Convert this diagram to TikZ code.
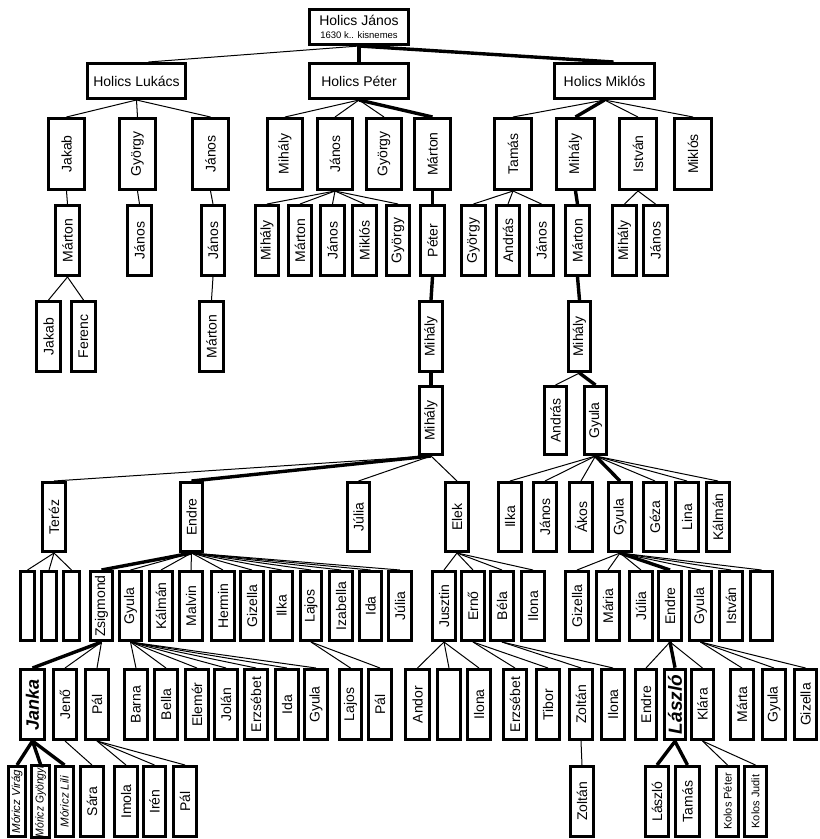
\documentclass[tikz,border=0pt]{standalone}
\usepackage{fontspec}
\setmainfont{Liberation Sans}
\usepackage{graphicx}
\tikzset{
 pb/.style={draw, line width=3.1pt, rectangle, inner sep=0pt, font=\fontsize{14}{16}\selectfont},
 lk/.style={line width=1pt},
 tk/.style={line width=3.4pt},
 bi/.style={font=\fontsize{18}{20}\selectfont\bfseries\itshape},
 mi/.style={font=\fontsize{11.5}{13}\selectfont\itshape},
 ks/.style={font=\fontsize{11}{13}\selectfont},
}
\newcommand\bx[7][]{\node[pb,minimum width={#4-#3-3.1},minimum height={#6-#5-3.1},#1] (#2) at ({(#3+#4)/2},{(#5+#6)/2}) {\rotatebox{90}{#7}};}
\newcommand\hb[7][]{\node[pb,minimum width={#4-#3-3.1},minimum height={#6-#5-3.1},align=center,#1] (#2) at ({(#3+#4)/2},{(#5+#6)/2}) {#7};}
\begin{document}
\begin{tikzpicture}[x=1pt,y=-1pt]
\fill[white] (0,0) rectangle (820,839);
\useasboundingbox (0,0) rectangle (820,839);
% level 0 and 1
\hb{hj}{308}{410}{8}{46}{Holics János\\[-3pt]{\fontsize{9.5}{11}\selectfont 1630 k.. kisnemes}}
\hb{luk}{86}{187}{62}{100}{Holics Lukács}
\hb{pet}{308}{410}{62}{100}{Holics Péter}
\hb{mik}{553}{656}{62}{100}{Holics Miklós}
% level 2
\bx{l2a}{47}{86}{117}{191}{Jakab}
\bx{l2b}{118}{157}{117}{191}{György}
\bx{l2c}{191}{230}{117}{191}{János}
\bx{p2a}{266}{304}{117}{191}{Mihály}
\bx{p2b}{316}{354}{117}{191}{János}
\bx{p2c}{365}{403}{117}{191}{György}
\bx{p2d}{413}{452}{117}{191}{Márton}
\bx{m2a}{493}{533}{117}{191}{Tamás}
\bx{m2b}{555}{596}{117}{191}{Mihály}
\bx{m2c}{618}{658}{117}{191}{István}
\bx{m2d}{673}{713}{117}{191}{Miklós}
% level 3
\bx{l3a}{54}{81}{204}{277}{Márton}
\bx{l3b}{126}{153}{204}{277}{János}
\bx{l3c}{200}{226}{204}{277}{János}
\bx{p3a}{254}{280}{204}{277}{Mihály}
\bx{p3b}{287}{313}{204}{277}{Márton}
\bx{p3c}{319}{346}{204}{277}{János}
\bx{p3d}{351}{378}{204}{277}{Miklós}
\bx{p3e}{385}{411}{204}{277}{György}
\bx{p3f}{419}{446}{204}{277}{Péter}
\bx{m3a}{460}{487}{204}{277}{György}
\bx{m3b}{495}{521}{204}{277}{András}
\bx{m3c}{528}{555}{204}{277}{János}
\bx{m3d}{564}{591}{204}{277}{Márton}
\bx{m3e}{611}{638}{204}{277}{Mihály}
\bx{m3f}{642}{669}{204}{277}{János}
% level 4
\bx{l4a}{35}{62}{300}{373}{Jakab}
\bx{l4b}{70}{97}{300}{373}{Ferenc}
\bx{l4c}{198}{225}{300}{373}{Márton}
\bx{p4}{418}{444}{300}{373}{Mihály}
\bx{m4}{567}{592}{300}{373}{Mihály}
% level 5
\bx{p5}{418}{444}{385}{456}{Mihály}
\bx{m5a}{543}{568}{385}{456}{András}
\bx{m5b}{583}{608}{385}{456}{Gyula}
% level 6
\bx{t6}{41}{67}{481}{553}{Teréz}
\bx{e6}{179}{204}{481}{553}{Endre}
\bx{j6}{346}{371}{481}{553}{Júlia}
\bx{k6}{444}{470}{481}{553}{Elek}
\bx{g6a}{497}{523}{481}{553}{Ilka}
\bx{g6b}{532}{558}{481}{553}{János}
\bx{g6c}{568}{594}{481}{553}{Ákos}
\bx{g6d}{607}{633}{481}{553}{Gyula}
\bx{g6e}{642}{668}{481}{553}{Géza}
\bx{g6f}{674}{700}{481}{553}{Lina}
\bx{g6g}{705}{731}{481}{553}{Kálmán}
% level 7
\bx{t7a}{19}{36}{570}{642}{}
\bx{t7b}{40}{58}{570}{642}{}
\bx{t7c}{62}{81}{570}{642}{}
\bx{e7a}{89}{114}{570}{642}{Zsigmond}
\bx{e7b}{118}{143}{570}{642}{Gyula}
\bx{e7c}{148}{174}{570}{642}{Kálmán}
\bx{e7d}{178}{204}{570}{642}{Malvin}
\bx{e7e}{210}{236}{570}{642}{Hermin}
\bx{e7f}{239}{265}{570}{642}{Gizella}
\bx{e7g}{269}{294}{570}{642}{Ilka}
\bx{e7h}{299}{323}{570}{642}{Lajos}
\bx{e7i}{328}{354}{570}{642}{Izabella}
\bx{e7j}{358}{383}{570}{642}{Ida}
\bx{e7k}{387}{413}{570}{642}{Júlia}
\bx{k7a}{431}{457}{570}{642}{Jusztin}
\bx{k7b}{460}{486}{570}{642}{Ernő}
\bx{k7c}{489}{515}{570}{642}{Béla}
\bx{k7d}{520}{546}{570}{642}{Ilona}
\bx{g7a}{564}{590}{570}{642}{Gizella}
\bx{g7b}{595}{621}{570}{642}{Mária}
\bx{g7c}{628}{654}{570}{642}{Júlia}
\bx{g7d}{657}{683}{570}{642}{Endre}
\bx{g7e}{688}{713}{570}{642}{Gyula}
\bx{g7f}{718}{744}{570}{642}{István}
\bx{g7g}{749}{774}{570}{642}{}
% level 8
\bx[bi]{z8a}{19}{46}{668}{741}{Janka}
\bx{z8b}{52}{78}{668}{741}{Jenő}
\bx{z8c}{84}{110}{668}{741}{Pál}
\bx{y8a}{123}{149}{668}{741}{Barna}
\bx{y8b}{153}{179}{668}{741}{Bella}
\bx{y8c}{184}{210}{668}{741}{Elemér}
\bx{y8d}{213}{239}{668}{741}{Jolán}
\bx{y8e}{243}{269}{668}{741}{Erzsébet}
\bx{y8f}{274}{300}{668}{741}{Ida}
\bx{y8g}{303}{329}{668}{741}{Gyula}
\bx{h8a}{338}{363}{668}{741}{Lajos}
\bx{h8b}{367}{393}{668}{741}{Pál}
\bx{u8a}{404}{431}{668}{741}{Andor}
\bx{u8b}{436}{462}{668}{741}{}
\bx{u8c}{466}{492}{668}{741}{Ilona}
\bx{r8a}{502}{528}{668}{741}{Erzsébet}
\bx{r8b}{535}{561}{668}{741}{Tibor}
\bx{b8a}{568}{594}{668}{741}{Zoltán}
\bx{b8b}{600}{626}{668}{741}{Ilona}
\bx{d8a}{634}{658}{668}{741}{Endre}
\bx[bi,line width=3.8pt,font=\fontsize{19}{21}\selectfont\bfseries\itshape]{d8b}{663}{687}{668}{741}{László}
\bx{d8c}{690}{715}{668}{741}{Klára}
\bx{q8a}{729}{755}{668}{741}{Márta}
\bx{q8b}{761}{787}{668}{741}{Gyula}
\bx{q8c}{793}{818}{668}{741}{Gizella}
% level 9
\bx[mi]{j9a}{7}{27}{765}{838}{Móricz Virág}
\bx[mi]{j9b}{30}{51}{765}{838}{\scalebox{0.9}[1]{Móricz Gyöngyi}}
\bx[mi]{j9c}{54}{75}{765}{838}{Móricz Lili}
\bx{s9}{79}{105}{765}{838}{Sára}
\bx{p9a}{113}{139}{765}{838}{Imola}
\bx{p9b}{142}{167}{765}{838}{Irén}
\bx{p9c}{172}{198}{765}{838}{Pál}
\bx{b9}{569}{595}{765}{838}{Zoltán}
\bx{l9a}{644}{670}{765}{838}{László}
\bx{l9b}{674}{701}{765}{838}{Tamás}
\bx[ks]{k9a}{715}{740}{765}{838}{Kolos Péter}
\bx[ks]{k9b}{743}{768}{765}{838}{Kolos Judit}
% connectors
\draw[lk] (hj.south) -- ([xshift=12pt]luk.north);
\draw[tk] (hj.south) -- (pet.north);
\draw[tk] (hj.south) -- ([xshift=9pt]mik.north);
\foreach \c in {l2a,l2b,l2c} \draw[lk] (luk.south) -- (\c.north);
\foreach \c in {p2a,p2b,p2c} \draw[lk] (pet.south) -- (\c.north);
\draw[tk] (pet.south) -- (p2d.north);
\foreach \c in {m2a,m2c,m2d} \draw[lk] (mik.south) -- (\c.north);
\draw[tk] (mik.south) -- (m2b.north);
\draw[lk] (l2a.south) -- (l3a.north);
\draw[lk] (l2b.south) -- (l3b.north);
\draw[lk] (l2c.south) -- (l3c.north);
\foreach \c in {p3a,p3b,p3c,p3d,p3e} \draw[lk] (p2b.south) -- (\c.north);
\draw[tk] (p2d.south) -- (p3f.north);
\foreach \c in {m3a,m3b,m3c} \draw[lk] (m2a.south) -- (\c.north);
\draw[tk] (m2b.south) -- (m3d.north);
\foreach \c in {m3e,m3f} \draw[lk] (m2c.south) -- (\c.north);
\foreach \c in {l4a,l4b} \draw[lk] (l3a.south) -- (\c.north);
\draw[lk] (l3c.south) -- (l4c.north);
\draw[tk] (p3f.south) -- (p4.north);
\draw[tk] (m3d.south) -- (m4.north);
\draw[tk] (p4.south) -- (p5.north);
\draw[lk] (m4.south) -- (m5a.north);
\draw[tk] (m4.south) -- (m5b.north);
\foreach \c in {t6,j6,k6} \draw[lk] (p5.south) -- (\c.north);
\draw[tk] (p5.south) -- (e6.north);
\foreach \c in {g6a,g6b,g6c,g6e,g6f,g6g} \draw[lk] (m5b.south) -- (\c.north);
\draw[tk] (m5b.south) -- (g6d.north);
\foreach \c in {t7a,t7b,t7c} \draw[lk] (t6.south) -- (\c.north);
\draw[tk] (e6.south) -- (e7a.north);
\foreach \c in {e7b,e7c,e7d,e7e,e7f,e7g,e7h,e7i,e7j,e7k} \draw[lk] (e6.south) -- (\c.north);
\foreach \c in {k7a,k7b,k7c,k7d} \draw[lk] (k6.south) -- (\c.north);
\foreach \c in {g7a,g7b,g7c,g7e,g7f,g7g} \draw[lk] (g6d.south) -- (\c.north);
\draw[tk] (g6d.south) -- (g7d.north);
\draw[tk] (e7a.south) -- (z8a.north);
\foreach \c in {z8b,z8c} \draw[lk] (e7a.south) -- (\c.north);
\foreach \c in {y8a,y8b,y8c,y8d,y8e,y8f,y8g} \draw[lk] (e7b.south) -- (\c.north);
\foreach \c in {h8a,h8b} \draw[lk] (e7h.south) -- (\c.north);
\foreach \c in {u8a,u8b,u8c} \draw[lk] (k7a.south) -- (\c.north);
\foreach \c in {r8a,r8b} \draw[lk] (k7b.south) -- (\c.north);
\foreach \c in {b8a,b8b} \draw[lk] (k7c.south) -- (\c.north);
\draw[lk] (g7d.south) -- (d8a.north);
\draw[tk] (g7d.south) -- (d8b.north);
\draw[lk] (g7d.south) -- (d8c.north);
\foreach \c in {q8a,q8b,q8c} \draw[lk] (g7e.south) -- (\c.north);
\foreach \c in {j9a,j9b,j9c} \draw[tk] (z8a.south) -- (\c.north);
\draw[lk] (z8b.south) -- (s9.north);
\foreach \c in {p9a,p9b,p9c} \draw[lk] (z8c.south) -- (\c.north);
\draw[lk] (b8a.south) -- (b9.north);
\foreach \c in {l9a,l9b} \draw[tk] (d8b.south) -- (\c.north);
\foreach \c in {k9a,k9b} \draw[lk] (d8c.south) -- (\c.north);
\end{tikzpicture}
\end{document}
